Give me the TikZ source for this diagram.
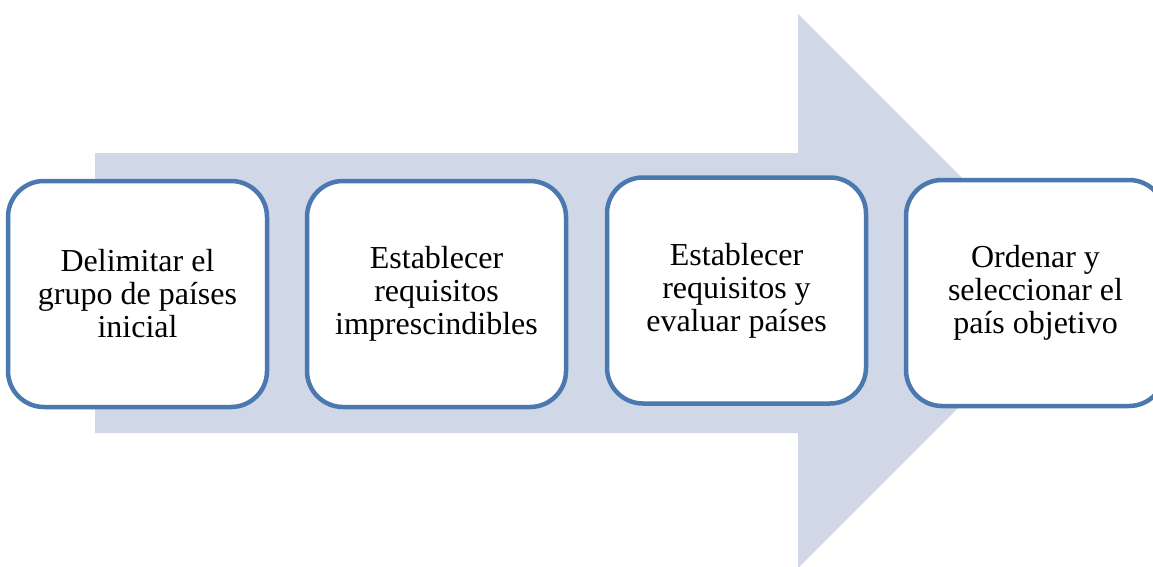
\documentclass[tikz,border=0pt]{standalone}
\usepackage{fontspec}
\setmainfont{Liberation Serif}
\definecolor{arrowfill}{RGB}{208,216,232}
\definecolor{boxline}{RGB}{74,120,175}
\begin{document}
\begin{tikzpicture}[x=1pt,y=-1pt,
  stepbox/.style={draw=boxline, line width=4.5pt, fill=white, rounded corners=36pt,
    minimum width=259pt, minimum height=226pt, align=center,
    font=\fontsize{32}{33}\selectfont, inner sep=0pt}]
\useasboundingbox (0,0) rectangle (1153,567);
\clip (0,0) rectangle (1153,567);
\fill[arrowfill] (95,153) -- (798,153) -- (798,14) -- (1075,291) -- (798,568) -- (798,433) -- (95,433) -- cycle;
\node[stepbox] (s1) at (137.5,294) {Delimitar el\\grupo de países\\inicial};
\node[stepbox] (s2) at (436.5,294) {Establecer\\requisitos\\imprescindibles};
\node[stepbox] (s3) at (736.5,290.5) {Establecer\\requisitos y\\evaluar países};
\node[stepbox] (s4) at (1035.5,293) {Ordenar y\\seleccionar el\\país objetivo};
\end{tikzpicture}
\end{document}
